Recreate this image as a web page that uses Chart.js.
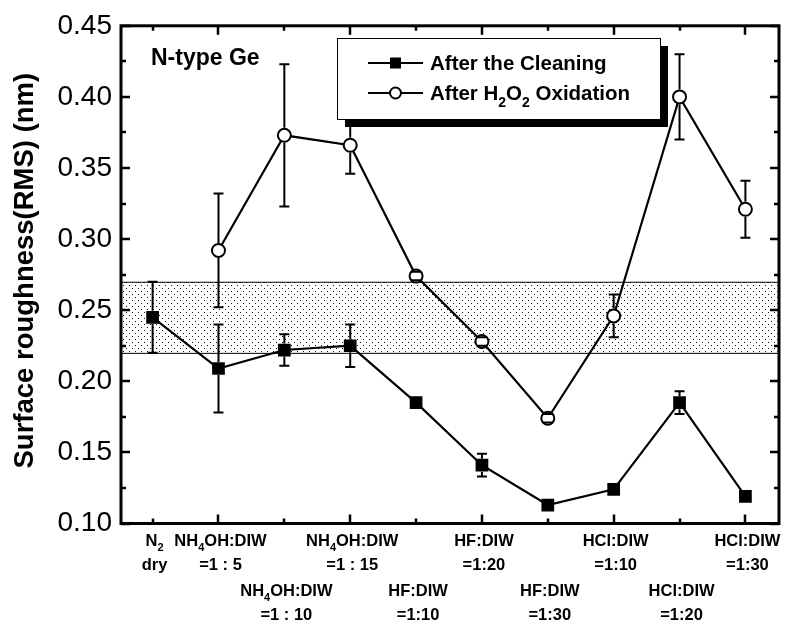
<!DOCTYPE html>
<html>
<head>
<meta charset="utf-8">
<script src="https://cdn.jsdelivr.net/npm/chart.js@4/dist/chart.umd.min.js"></script>
<style>
  html, body { margin: 0; padding: 0; background: #fff; }
  #wrap { width: 788px; height: 624px; }
</style>
</head>
<body>
<div id="wrap"><canvas id="c" width="788" height="624"></canvas></div>
<script>
// Cleaning recipes along the x axis ("_x" marks a subscript character)
const categories = [
  ['N_2', 'dry'],
  ['NH_4OH:DIW', '=1 : 5'],
  ['NH_4OH:DIW', '=1 : 10'],
  ['NH_4OH:DIW', '=1 : 15'],
  ['HF:DIW', '=1:10'],
  ['HF:DIW', '=1:20'],
  ['HF:DIW', '=1:30'],
  ['HCl:DIW', '=1:10'],
  ['HCl:DIW', '=1:20'],
  ['HCl:DIW', '=1:30']
];

// RMS roughness (nm) and symmetric error bars
const cleaning      = [0.245, 0.209, 0.222, 0.225, 0.185, 0.141, 0.113, 0.124, 0.185, 0.119];
const cleaningErr   = [0.025, 0.031, 0.011, 0.015, 0.003, 0.008, 0.003, 0.003, 0.008, 0.003];
const oxidation     = [null, 0.292, 0.373, 0.366, 0.274, 0.228, 0.174, 0.246, 0.400, 0.321];
const oxidationErr  = [null, 0.040, 0.050, 0.020, 0.003, 0.003, 0.003, 0.015, 0.030, 0.020];

const yTicks = [0.10, 0.15, 0.20, 0.25, 0.30, 0.35, 0.40, 0.45];
const referenceBand = [0.22, 0.27];

const seriesNames = ['After the Cleaning', 'After H_2O_2 Oxidation'];
const panelLabel = 'N-type Ge';
const yTitle = 'Surface roughness(RMS) (nm)';

const FONT = '"Liberation Sans", Arial, Helvetica, sans-serif';
Chart.defaults.font.family = FONT;
Chart.defaults.color = '#000';

// text with one-character subscripts written as "_x"
function richParts(str) {
  const parts = [];
  const re = /_(.)/g;
  let last = 0, m;
  while ((m = re.exec(str))) {
    if (m.index > last) parts.push({ t: str.slice(last, m.index), sub: false });
    parts.push({ t: m[1], sub: true });
    last = re.lastIndex;
  }
  if (last < str.length) parts.push({ t: str.slice(last), sub: false });
  return parts;
}
function drawRich(ctx, str, x, y, size, align) {
  const parts = richParts(str);
  const subSize = Math.round(size * 0.68);
  let w = 0;
  parts.forEach(p => {
    ctx.font = `bold ${p.sub ? subSize : size}px ${FONT}`;
    p.w = ctx.measureText(p.t).width;
    w += p.w;
  });
  let cx = align === 'center' ? x - w / 2 : x;
  ctx.textAlign = 'left';
  ctx.textBaseline = 'alphabetic';
  parts.forEach(p => {
    ctx.font = `bold ${p.sub ? subSize : size}px ${FONT}`;
    ctx.fillText(p.t, cx, y + (p.sub ? size * 0.32 : 0));
    cx += p.w;
  });
}

function dotPattern(ctx) {
  const t = document.createElement('canvas');
  t.width = 6; t.height = 6;
  const g = t.getContext('2d');
  g.fillStyle = '#fff';
  g.fillRect(0, 0, 6, 6);
  g.fillStyle = '#111';
  g.fillRect(0, 0, 1, 1);
  g.fillRect(3, 3, 1, 1);
  return ctx.createPattern(t, 'repeat');
}

function drawMarker(ctx, kind, x, y, size) {
  ctx.save();
  ctx.lineWidth = 2;
  ctx.strokeStyle = '#000';
  if (kind === 'rect') {
    ctx.fillStyle = '#000';
    ctx.fillRect(x - size / 2, y - size / 2, size, size);
  } else {
    ctx.fillStyle = '#fff';
    ctx.beginPath();
    ctx.arc(x, y, size / 2, 0, Math.PI * 2);
    ctx.fill();
    ctx.stroke();
  }
  ctx.restore();
}

const toPoints = arr => arr.map((v, i) => (v === null ? null : { x: i, y: v })).filter(p => p);

const decorations = {
  id: 'decorations',
  beforeDatasetsDraw(chart) {
    const { ctx, chartArea: a, scales: { y } } = chart;
    // reference band
    const yHi = y.getPixelForValue(referenceBand[1]);
    const yLo = y.getPixelForValue(referenceBand[0]);
    ctx.save();
    ctx.fillStyle = dotPattern(ctx);
    ctx.fillRect(a.left, yHi, a.right - a.left, yLo - yHi);
    ctx.strokeStyle = '#000';
    ctx.lineWidth = 1;
    ctx.beginPath();
    ctx.moveTo(a.left, yHi + 0.5); ctx.lineTo(a.right, yHi + 0.5);
    ctx.moveTo(a.left, yLo + 0.5); ctx.lineTo(a.right, yLo + 0.5);
    ctx.stroke();
    ctx.restore();
  },
  afterDatasetsDraw(chart) {
    const { ctx, scales: { x, y } } = chart;
    ctx.save();
    ctx.strokeStyle = '#000';
    // error bars: stems stop at the marker edge, caps always drawn
    ctx.lineWidth = 2;
    [[cleaning, cleaningErr, 6.5], [oxidation, oxidationErr, 7.5]].forEach(([vals, errs, gap]) => {
      vals.forEach((v, i) => {
        if (v === null) return;
        const px = x.getPixelForValue(i);
        const py = y.getPixelForValue(v);
        const t = y.getPixelForValue(v + errs[i]);
        const b = y.getPixelForValue(v - errs[i]);
        ctx.beginPath();
        if (py - gap > t) { ctx.moveTo(px, t); ctx.lineTo(px, py - gap); }
        if (py + gap < b) { ctx.moveTo(px, py + gap); ctx.lineTo(px, b); }
        ctx.moveTo(px - 5, t); ctx.lineTo(px + 5, t);
        ctx.moveTo(px - 5, b); ctx.lineTo(px + 5, b);
        ctx.stroke();
      });
    });
    // legend box with drop shadow
    const L = 337, T = 38, R = 660, B = 119;
    ctx.fillStyle = '#000';
    ctx.fillRect(L + 8, T + 8, R - L, B - T);
    ctx.fillStyle = '#fff';
    ctx.fillRect(L, T, R - L, B - T);
    ctx.lineWidth = 1;
    ctx.strokeRect(L + 0.5, T + 0.5, R - L, B - T);
    const rows = [63, 93];
    const kinds = ['rect', 'circle'];
    rows.forEach((ry, k) => {
      ctx.lineWidth = 2;
      ctx.beginPath();
      ctx.moveTo(368, ry); ctx.lineTo(423, ry);
      ctx.stroke();
      drawMarker(ctx, kinds[k], 395.5, ry, 11);
      ctx.fillStyle = '#000';
      drawRich(ctx, seriesNames[k], 430, ry + 7, 20.5, 'left');
    });
    ctx.restore();
  },
  afterDraw(chart) {
    const { ctx, chartArea: a, scales: { x, y } } = chart;
    ctx.save();
    ctx.strokeStyle = '#000';
    // inward ticks
    ctx.lineWidth = 2.5;
    ctx.beginPath();
    for (let v = 0.10; v <= 0.4501; v += 0.025) {
      const py = Math.round(y.getPixelForValue(v));
      const major = Math.round(v * 1000) % 50 === 0;
      const len = major ? 9 : 5;
      ctx.moveTo(a.left, py); ctx.lineTo(a.left + len, py);
      ctx.moveTo(a.right, py); ctx.lineTo(a.right - len, py);
    }
    categories.forEach((c, i) => {
      const px = Math.round(x.getPixelForValue(i));
      const len = i % 2 === 1 ? 9 : 5;
      ctx.moveTo(px, a.bottom); ctx.lineTo(px, a.bottom - len);
      ctx.moveTo(px, a.top); ctx.lineTo(px, a.top + len);
    });
    ctx.stroke();
    // frame
    ctx.lineWidth = 3;
    ctx.strokeRect(a.left, a.top, a.right - a.left, a.bottom - a.top);
    // category labels, staggered on two rows
    ctx.fillStyle = '#000';
    categories.forEach((lines, i) => {
      const px = x.getPixelForValue(i);
      const lower = i >= 2 && i % 2 === 0;
      const base = lower ? 596 : 546;
      drawRich(ctx, lines[0], px + 2, base, 16.5, 'center');
      drawRich(ctx, lines[1], px + 2, base + 24, 16.5, 'center');
    });
    // panel label
    ctx.font = `bold 23px ${FONT}`;
    ctx.textAlign = 'left';
    ctx.textBaseline = 'middle';
    ctx.fillText(panelLabel, 151, 59);
    // y title
    ctx.translate(25, (a.top + a.bottom) / 2 - 4);
    ctx.rotate(-Math.PI / 2);
    ctx.font = `bold 27.5px ${FONT}`;
    ctx.textAlign = 'center';
    ctx.textBaseline = 'middle';
    ctx.fillText(yTitle, 0, 0);
    ctx.restore();
  }
};

new Chart(document.getElementById('c'), {
  type: 'line',
  data: {
    datasets: [
      {
        label: seriesNames[0],
        data: toPoints(cleaning),
        borderColor: '#000',
        borderWidth: 2.2,
        backgroundColor: '#000',
        pointStyle: 'rect',
        pointRadius: 9,
        pointBorderWidth: 0,
        pointBackgroundColor: '#000',
        tension: 0
      },
      {
        label: seriesNames[1],
        data: toPoints(oxidation),
        borderColor: '#000',
        borderWidth: 2.2,
        pointStyle: 'circle',
        pointRadius: 6.5,
        pointBorderWidth: 2,
        pointBorderColor: '#000',
        pointBackgroundColor: '#fff',
        tension: 0
      }
    ]
  },
  options: {
    responsive: false,
    animation: false,
    devicePixelRatio: 1,
    layout: { padding: { top: 24, right: 5, left: 0, bottom: 0 } },
    plugins: { legend: { display: false }, tooltip: { enabled: false } },
    scales: {
      x: {
        type: 'linear',
        min: -0.48,
        max: 9.51,
        grid: { display: false, drawTicks: false },
        border: { display: false },
        ticks: { display: false },
        afterFit: s => { s.height = 100.5; }
      },
      y: {
        type: 'linear',
        min: 0.10,
        max: 0.45,
        grid: { display: false, drawTicks: false },
        border: { display: false },
        afterBuildTicks: s => { s.ticks = yTicks.map(v => ({ value: v })); },
        ticks: {
          padding: 9,
          font: { size: 28 },
          color: '#000',
          callback: v => Number(v).toFixed(2)
        },
        afterFit: s => { s.width = 121; }
      }
    }
  },
  plugins: [decorations]
});
</script>
</body>
</html>
